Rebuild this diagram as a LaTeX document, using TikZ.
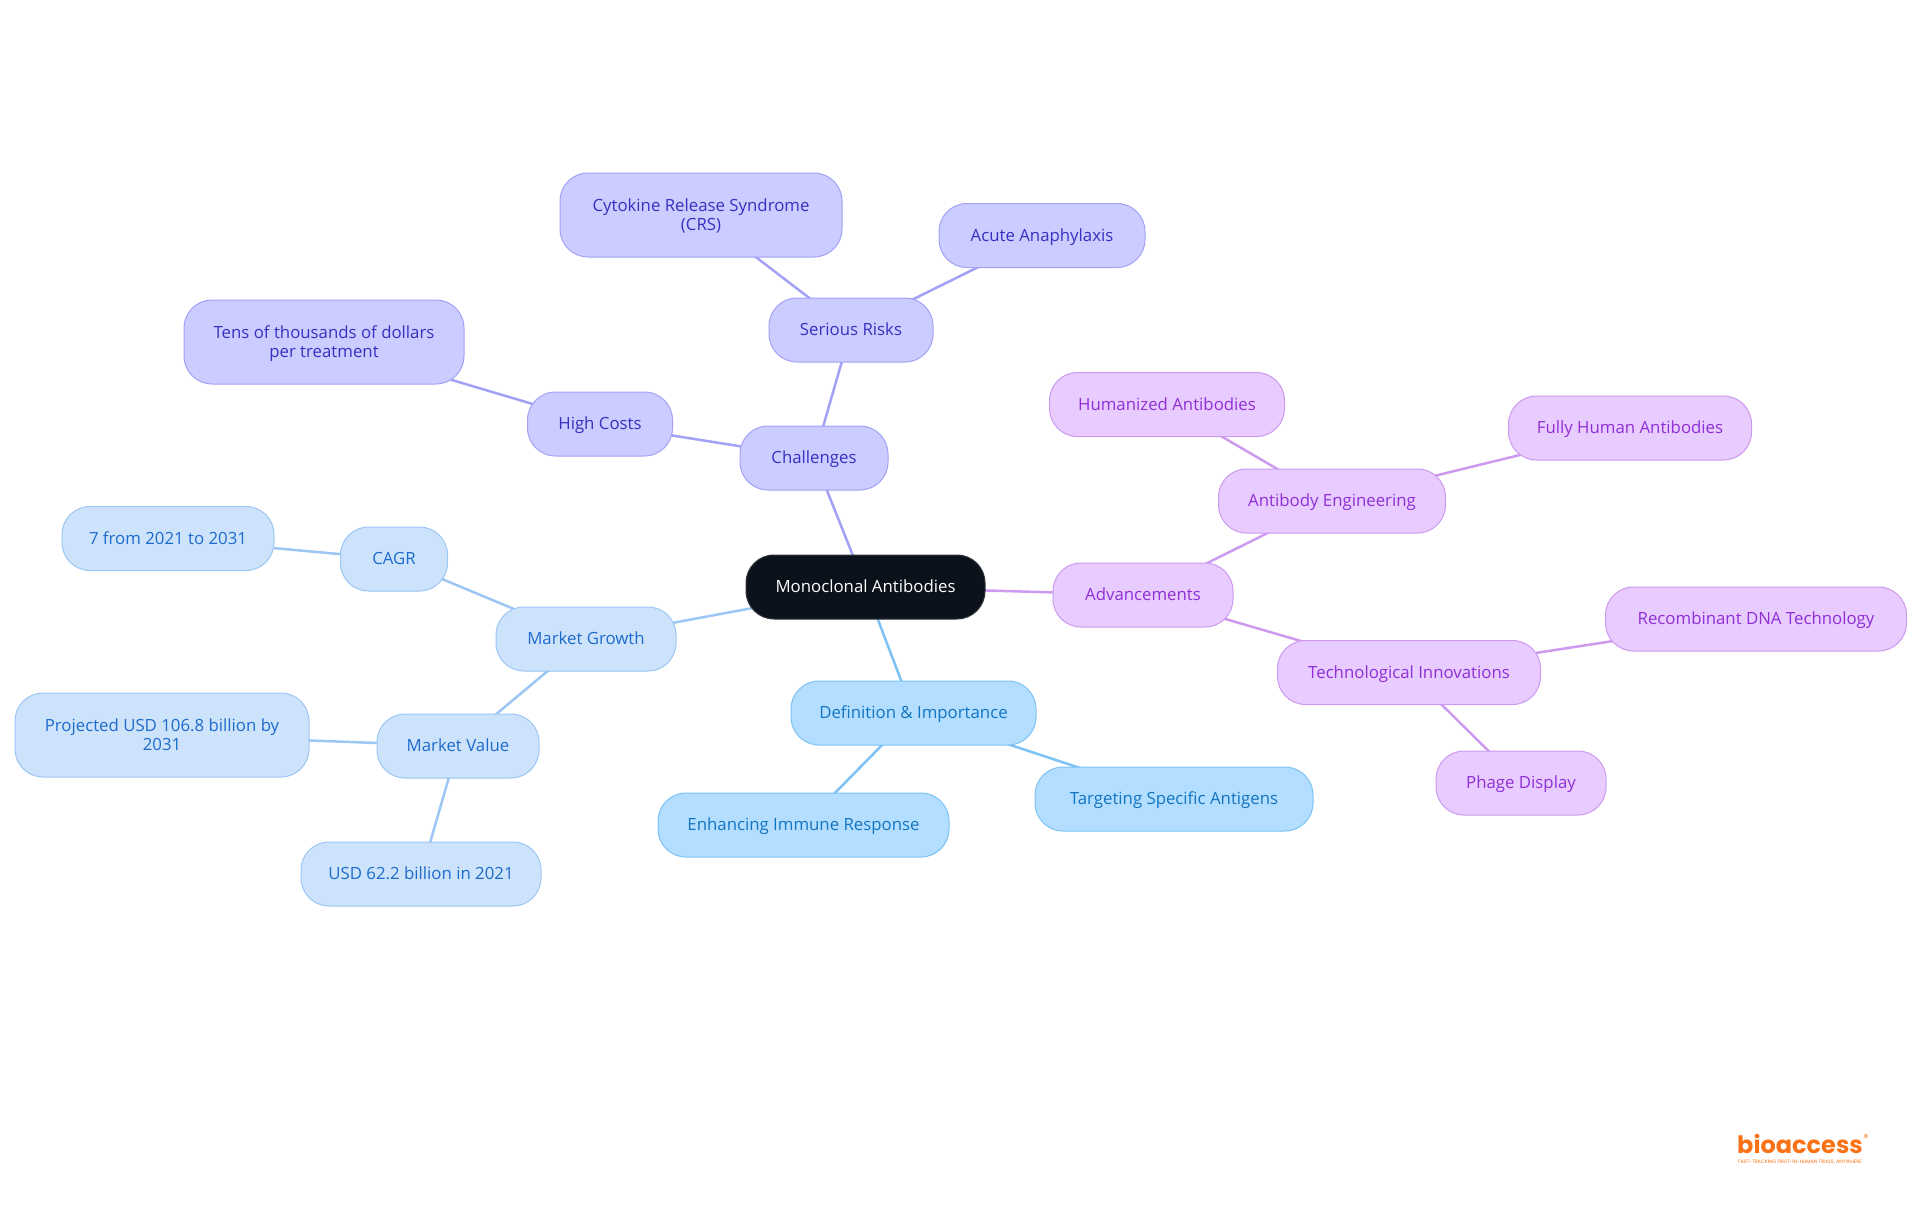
\documentclass[tikz,border=0pt]{standalone}
\usepackage{fontspec}
\setmainfont{Open Sans}
\newfontfamily\logofont{Poppins}
\usetikzlibrary{backgrounds}

\definecolor{rootFill}{HTML}{0B121B}
\definecolor{defFill}{HTML}{B3DEFF}
\definecolor{defLine}{HTML}{7CC2F5}
\definecolor{defText}{HTML}{1275C2}
\definecolor{growthFill}{HTML}{CDE3FC}
\definecolor{growthLine}{HTML}{9CC6F3}
\definecolor{growthText}{HTML}{1D6BCC}
\definecolor{riskFill}{HTML}{CBCCFF}
\definecolor{riskLine}{HTML}{A3A1F5}
\definecolor{riskText}{HTML}{3730C0}
\definecolor{advFill}{HTML}{E8CBFF}
\definecolor{advLine}{HTML}{CD9AF0}
\definecolor{advText}{HTML}{8F2FD6}
\definecolor{logoOrange}{HTML}{F97316}

\begin{document}
\begin{tikzpicture}[x=0.5pt, y=-0.5pt, font=\fontsize{8.4}{9.5}\selectfont]
        % Styles for the boxes and connectors
        \tikzstyle{box} = [draw, rectangle, rounded corners=14pt, align=center, inner sep=0pt, minimum height=32pt, text height=7.2pt, text depth=1.3pt, line width=0.5pt]
        \tikzstyle{tallbox} = [minimum height=42pt, text height=16.7pt]
        \tikzstyle{rootbox} = [box, fill=rootFill, draw=rootFill!85!white, text=white]
        \tikzstyle{defbox} = [box, fill=defFill, draw=defLine, text=defText]
        \tikzstyle{growthbox} = [box, fill=growthFill, draw=growthLine, text=growthText]
        \tikzstyle{riskbox} = [box, fill=riskFill, draw=riskLine, text=riskText]
        \tikzstyle{advbox} = [box, fill=advFill, draw=advLine, text=advText]
        \tikzstyle{link} = [line width=1.25pt]

        \useasboundingbox (0,0) rectangle (1920,1215);

        % Nodes
        \node [rootbox, minimum width=119.5pt] (root) at (865.5,587) {Monoclonal Antibodies};

        \node [defbox, minimum width=122.5pt] (definition) at (913.5,713) {Definition \& Importance};
        \node [defbox, minimum width=139pt] (targeting) at (1174,799) {Targeting Specific Antigens};
        \node [defbox, minimum width=145.5pt] (enhancing) at (803.5,825) {Enhancing Immune Response};

        \node [growthbox, minimum width=90pt] (growth) at (586,639) {Market Growth};
        \node [growthbox, minimum width=53.5pt] (cagr) at (394,559) {CAGR};
        \node [growthbox, minimum width=106pt] (cagrValue) at (168,538.5) {7 from 2021 to 2031};
        \node [growthbox, minimum width=81pt] (value) at (458,746) {Market Value};
        \node [growthbox, tallbox, minimum width=147pt] (projected) at (162,735) {Projected USD 106.8 billion by\\2031};
        \node [growthbox, minimum width=120pt] (current) at (421,874) {USD 62.2 billion in 2021};

        \node [riskbox, minimum width=74pt] (challenges) at (814,458) {Challenges};
        \node [riskbox, minimum width=72.5pt] (costs) at (600,424) {High Costs};
        \node [riskbox, tallbox, minimum width=140pt] (dollars) at (324,342) {Tens of thousands of dollars\\per treatment};
        \node [riskbox, minimum width=82pt] (risks) at (851,330) {Serious Risks};
        \node [riskbox, tallbox, minimum width=141pt] (cytokine) at (701,215) {Cytokine Release Syndrome\\(CRS)};
        \node [riskbox, minimum width=103pt] (acute) at (1042,235.5) {Acute Anaphylaxis};

        \node [advbox, minimum width=90pt] (advancements) at (1143,595) {Advancements};
        \node [advbox, minimum width=113.5pt] (engineering) at (1332,501) {Antibody Engineering};
        \node [advbox, minimum width=117.5pt] (humanized) at (1167,404.5) {Humanized Antibodies};
        \node [advbox, minimum width=121.5pt] (fully) at (1630,428) {Fully Human Antibodies};
        \node [advbox, minimum width=131.5pt] (innovations) at (1409,672.5) {Technological Innovations};
        \node [advbox, minimum width=150.5pt] (recombinant) at (1756,619) {Recombinant DNA Technology};
        \node [advbox, minimum width=85pt] (phage) at (1521,783) {Phage Display};

        % Logo
        \node [text=logoOrange, inner sep=0pt, font=\logofont\bfseries\fontsize{12}{12}\selectfont] (logo) at (1800,1144) {bioaccess};
        \node [text=logoOrange, inner sep=0pt, font=\logofont\fontsize{5}{5}\selectfont] (registered) at (1866,1138) {®};
        \node [text=logoOrange, inner sep=0pt, font=\logofont\fontsize{2.45}{2.45}\selectfont] (tagline) at (1800,1162) {FAST-TRACKING FIRST-IN-HUMAN TRIALS, ANYWHERE};

        % Connectors
        \begin{scope}[on background layer]
        \draw [link, defLine] (root.center) -- (definition.center);
        \draw [link, defLine] (definition.center) -- (targeting.center);
        \draw [link, defLine] (definition.center) -- (enhancing.center);
        \draw [link, growthLine] (root.center) -- (growth.center);
        \draw [link, growthLine] (growth.center) -- (cagr.center);
        \draw [link, growthLine] (cagr.center) -- (cagrValue.center);
        \draw [link, growthLine] (growth.center) -- (value.center);
        \draw [link, growthLine] (value.center) -- (projected.center);
        \draw [link, growthLine] (value.center) -- (current.center);
        \draw [link, riskLine] (root.center) -- (challenges.center);
        \draw [link, riskLine] (challenges.center) -- (costs.center);
        \draw [link, riskLine] (costs.center) -- (dollars.center);
        \draw [link, riskLine] (challenges.center) -- (risks.center);
        \draw [link, riskLine] (risks.center) -- (cytokine.center);
        \draw [link, riskLine] (risks.center) -- (acute.center);
        \draw [link, advLine] (root.center) -- (advancements.center);
        \draw [link, advLine] (advancements.center) -- (engineering.center);
        \draw [link, advLine] (engineering.center) -- (humanized.center);
        \draw [link, advLine] (engineering.center) -- (fully.center);
        \draw [link, advLine] (advancements.center) -- (innovations.center);
        \draw [link, advLine] (innovations.center) -- (recombinant.center);
        \draw [link, advLine] (innovations.center) -- (phage.center);
        \end{scope}
\end{tikzpicture}
\end{document}
